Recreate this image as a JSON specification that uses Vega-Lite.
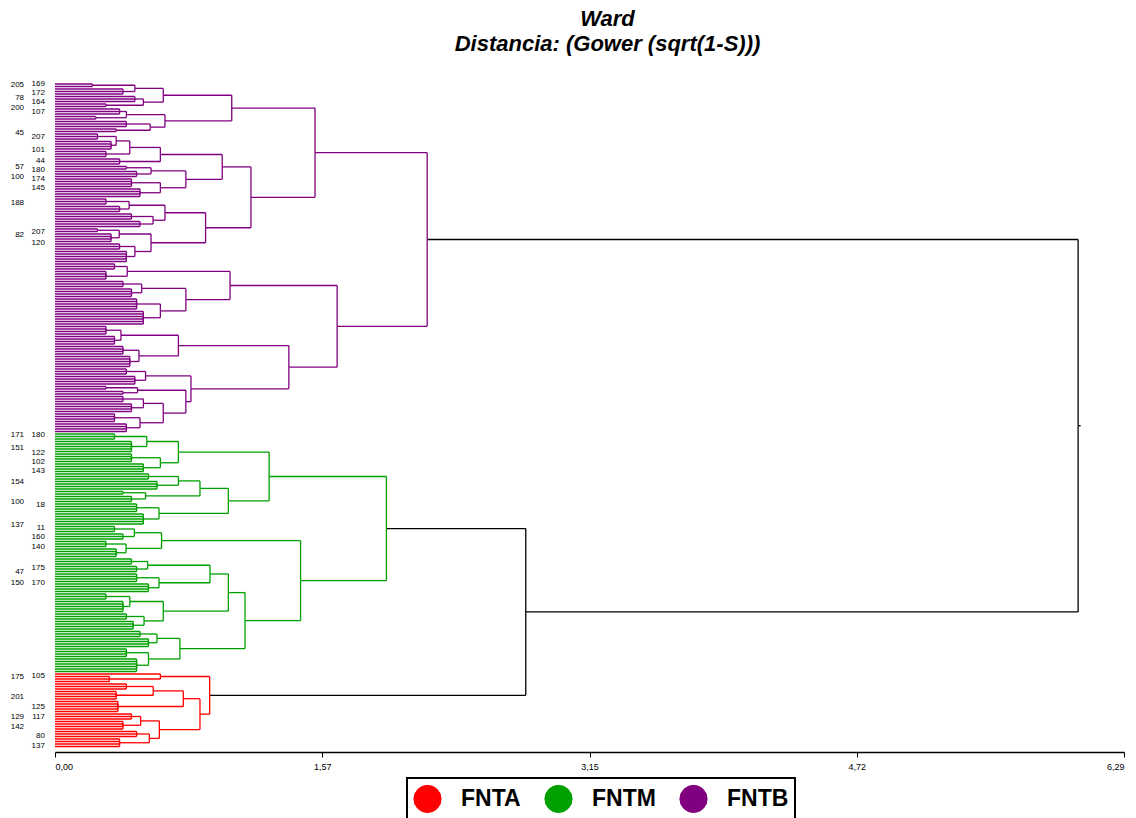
{
"$schema": "https://vega.github.io/schema/vega-lite/v6.json",
"width": 1069, "height": 672,
"autosize": "none",
"padding": {"left": 55, "top": 80, "right": 12, "bottom": 66},
"background": "white",
"config": {"view": {"stroke": null}},
"title": {"text": ["Ward", "Distancia: (Gower (sqrt(1-S)))"], "font": "Liberation Sans", "fontSize": 22, "fontStyle": "italic", "fontWeight": "bold", "color": "black", "anchor": "middle", "lineHeight": 25, "offset": 24, "dx": 18},
"data": {"values": [
{"y":239.5,"h":2.19,"py":425.7,"ph":6.02,"c":"K"},
{"y":611.9,"h":2.77,"py":425.7,"ph":6.02,"c":"K"},
{"y":425.7,"h":6.02,"py":425.7,"ph":6.035,"c":"K"},
{"y":528.55,"h":1.95,"py":611.9,"ph":2.77,"c":"K"},
{"y":695.3,"h":0.91,"py":611.9,"ph":2.77,"c":"K"},
{"y":152.7,"h":1.53,"py":239.5,"ph":2.19,"c":"FNTB"},
{"y":326.35,"h":1.66,"py":239.5,"ph":2.19,"c":"FNTB"},
{"y":108.06,"h":1.04,"py":152.7,"ph":1.53,"c":"FNTB"},
{"y":197.3,"h":1.153,"py":152.7,"ph":1.53,"c":"FNTB"},
{"y":95.25,"h":0.637,"py":108.06,"ph":1.04,"c":"FNTB"},
{"y":120.875,"h":0.647,"py":108.06,"ph":1.04,"c":"FNTB"},
{"y":88.375,"h":0.47,"py":95.25,"ph":0.637,"c":"FNTB"},
{"y":102.125,"h":0.52,"py":95.25,"ph":0.637,"c":"FNTB"},
{"y":85.25,"h":0.22,"py":88.375,"ph":0.47,"c":"FNTB"},
{"y":91.5,"h":0.40,"py":88.375,"ph":0.47,"c":"FNTB"},
{"y":99,"h":0.47,"py":102.125,"ph":0.52,"c":"FNTB"},
{"y":105.25,"h":0.30,"py":102.125,"ph":0.52,"c":"FNTB"},
{"y":114.625,"h":0.42,"py":120.875,"ph":0.647,"c":"FNTB"},
{"y":127.125,"h":0.56,"py":120.875,"ph":0.647,"c":"FNTB"},
{"y":111.5,"h":0.38,"py":114.625,"ph":0.42,"c":"FNTB"},
{"y":117.75,"h":0.24,"py":114.625,"ph":0.42,"c":"FNTB"},
{"y":124,"h":0.42,"py":127.125,"ph":0.56,"c":"FNTB"},
{"y":130.25,"h":0.36,"py":127.125,"ph":0.56,"c":"FNTB"},
{"y":166.9,"h":0.984,"py":197.3,"ph":1.153,"c":"FNTB"},
{"y":227.75,"h":0.886,"py":197.3,"ph":1.153,"c":"FNTB"},
{"y":154.5,"h":0.62,"py":166.9,"ph":0.984,"c":"FNTB"},
{"y":179.3,"h":0.77,"py":166.9,"ph":0.984,"c":"FNTB"},
{"y":147.45,"h":0.44,"py":154.5,"ph":0.62,"c":"FNTB"},
{"y":161.5,"h":0.38,"py":154.5,"ph":0.62,"c":"FNTB"},
{"y":140.9,"h":0.36,"py":147.45,"ph":0.44,"c":"FNTB"},
{"y":154,"h":0.30,"py":147.45,"ph":0.44,"c":"FNTB"},
{"y":136.5,"h":0.25,"py":140.9,"ph":0.36,"c":"FNTB"},
{"y":145.25,"h":0.33,"py":140.9,"ph":0.36,"c":"FNTB"},
{"y":170.875,"h":0.565,"py":179.3,"ph":0.77,"c":"FNTB"},
{"y":187.75,"h":0.62,"py":179.3,"ph":0.77,"c":"FNTB"},
{"y":167.75,"h":0.42,"py":170.875,"ph":0.565,"c":"FNTB"},
{"y":174,"h":0.48,"py":170.875,"ph":0.565,"c":"FNTB"},
{"y":182.75,"h":0.45,"py":187.75,"ph":0.62,"c":"FNTB"},
{"y":192.75,"h":0.50,"py":187.75,"ph":0.62,"c":"FNTB"},
{"y":212.75,"h":0.647,"py":227.75,"ph":0.886,"c":"FNTB"},
{"y":242.75,"h":0.565,"py":227.75,"ph":0.886,"c":"FNTB"},
{"y":205.25,"h":0.436,"py":212.75,"ph":0.647,"c":"FNTB"},
{"y":220.25,"h":0.577,"py":212.75,"ph":0.647,"c":"FNTB"},
{"y":201.5,"h":0.30,"py":205.25,"ph":0.436,"c":"FNTB"},
{"y":209,"h":0.38,"py":205.25,"ph":0.436,"c":"FNTB"},
{"y":216.5,"h":0.45,"py":220.25,"ph":0.577,"c":"FNTB"},
{"y":224,"h":0.50,"py":220.25,"ph":0.577,"c":"FNTB"},
{"y":234,"h":0.378,"py":242.75,"ph":0.565,"c":"FNTB"},
{"y":251.5,"h":0.47,"py":242.75,"ph":0.565,"c":"FNTB"},
{"y":230.25,"h":0.25,"py":234,"ph":0.378,"c":"FNTB"},
{"y":237.75,"h":0.33,"py":234,"ph":0.378,"c":"FNTB"},
{"y":246.5,"h":0.38,"py":251.5,"ph":0.47,"c":"FNTB"},
{"y":256.5,"h":0.42,"py":251.5,"ph":0.47,"c":"FNTB"},
{"y":285.5,"h":1.03,"py":326.35,"ph":1.66,"c":"FNTB"},
{"y":367.2,"h":1.376,"py":326.35,"ph":1.66,"c":"FNTB"},
{"y":271.4,"h":0.425,"py":285.5,"ph":1.03,"c":"FNTB"},
{"y":299.6,"h":0.77,"py":285.5,"ph":1.03,"c":"FNTB"},
{"y":266.5,"h":0.35,"py":271.4,"ph":0.425,"c":"FNTB"},
{"y":276.25,"h":0.30,"py":271.4,"ph":0.425,"c":"FNTB"},
{"y":288.4,"h":0.51,"py":299.6,"ph":0.77,"c":"FNTB"},
{"y":310.9,"h":0.62,"py":299.6,"ph":0.77,"c":"FNTB"},
{"y":284,"h":0.40,"py":288.4,"ph":0.51,"c":"FNTB"},
{"y":292.75,"h":0.45,"py":288.4,"ph":0.51,"c":"FNTB"},
{"y":304,"h":0.48,"py":310.9,"ph":0.62,"c":"FNTB"},
{"y":317.75,"h":0.52,"py":310.9,"ph":0.62,"c":"FNTB"},
{"y":345.6,"h":0.726,"py":367.2,"ph":1.376,"c":"FNTB"},
{"y":388.8,"h":0.80,"py":367.2,"ph":1.376,"c":"FNTB"},
{"y":335.25,"h":0.388,"py":345.6,"ph":0.726,"c":"FNTB"},
{"y":355.9,"h":0.494,"py":345.6,"ph":0.726,"c":"FNTB"},
{"y":330.25,"h":0.30,"py":335.25,"ph":0.388,"c":"FNTB"},
{"y":340.25,"h":0.35,"py":335.25,"ph":0.388,"c":"FNTB"},
{"y":350.25,"h":0.40,"py":355.9,"ph":0.494,"c":"FNTB"},
{"y":361.5,"h":0.44,"py":355.9,"ph":0.494,"c":"FNTB"},
{"y":375.9,"h":0.533,"py":388.8,"ph":0.80,"c":"FNTB"},
{"y":401.7,"h":0.77,"py":388.8,"ph":0.80,"c":"FNTB"},
{"y":371.5,"h":0.42,"py":375.9,"ph":0.533,"c":"FNTB"},
{"y":380.25,"h":0.47,"py":375.9,"ph":0.533,"c":"FNTB"},
{"y":390.25,"h":0.486,"py":401.7,"ph":0.77,"c":"FNTB"},
{"y":413.1,"h":0.637,"py":401.7,"ph":0.77,"c":"FNTB"},
{"y":387.75,"h":0.30,"py":390.25,"ph":0.486,"c":"FNTB"},
{"y":392.75,"h":0.40,"py":390.25,"ph":0.486,"c":"FNTB"},
{"y":403.4,"h":0.52,"py":413.1,"ph":0.637,"c":"FNTB"},
{"y":422.75,"h":0.50,"py":413.1,"ph":0.637,"c":"FNTB"},
{"y":399,"h":0.40,"py":403.4,"ph":0.52,"c":"FNTB"},
{"y":407.75,"h":0.45,"py":403.4,"ph":0.52,"c":"FNTB"},
{"y":417.75,"h":0.35,"py":422.75,"ph":0.50,"c":"FNTB"},
{"y":427.75,"h":0.42,"py":422.75,"ph":0.50,"c":"FNTB"},
{"y":476.5,"h":1.26,"py":528.55,"ph":1.95,"c":"FNTM"},
{"y":580.6,"h":1.445,"py":528.55,"ph":1.95,"c":"FNTM"},
{"y":452.1,"h":0.726,"py":476.5,"ph":1.26,"c":"FNTM"},
{"y":500.9,"h":1.02,"py":476.5,"ph":1.26,"c":"FNTM"},
{"y":441.5,"h":0.54,"py":452.1,"ph":0.726,"c":"FNTM"},
{"y":462.75,"h":0.62,"py":452.1,"ph":0.726,"c":"FNTM"},
{"y":436.5,"h":0.35,"py":441.5,"ph":0.54,"c":"FNTM"},
{"y":446.5,"h":0.45,"py":441.5,"ph":0.54,"c":"FNTM"},
{"y":457.75,"h":0.45,"py":462.75,"ph":0.62,"c":"FNTM"},
{"y":467.75,"h":0.52,"py":462.75,"ph":0.62,"c":"FNTM"},
{"y":488.4,"h":0.853,"py":500.9,"ph":1.02,"c":"FNTM"},
{"y":513.4,"h":0.612,"py":500.9,"ph":1.02,"c":"FNTM"},
{"y":480.9,"h":0.726,"py":488.4,"ph":0.853,"c":"FNTM"},
{"y":495.9,"h":0.533,"py":488.4,"ph":0.853,"c":"FNTM"},
{"y":476.5,"h":0.55,"py":480.9,"ph":0.726,"c":"FNTM"},
{"y":485.25,"h":0.60,"py":480.9,"ph":0.726,"c":"FNTM"},
{"y":492.75,"h":0.40,"py":495.9,"ph":0.533,"c":"FNTM"},
{"y":499,"h":0.45,"py":495.9,"ph":0.533,"c":"FNTM"},
{"y":507.75,"h":0.48,"py":513.4,"ph":0.612,"c":"FNTM"},
{"y":519,"h":0.52,"py":513.4,"ph":0.612,"c":"FNTM"},
{"y":540.6,"h":0.627,"py":580.6,"ph":1.445,"c":"FNTM"},
{"y":620.65,"h":1.118,"py":580.6,"ph":1.445,"c":"FNTM"},
{"y":532.75,"h":0.467,"py":540.6,"ph":0.627,"c":"FNTM"},
{"y":548.4,"h":0.418,"py":540.6,"ph":0.627,"c":"FNTM"},
{"y":529,"h":0.35,"py":532.75,"ph":0.467,"c":"FNTM"},
{"y":536.5,"h":0.40,"py":532.75,"ph":0.467,"c":"FNTM"},
{"y":544,"h":0.30,"py":548.4,"ph":0.418,"c":"FNTM"},
{"y":552.75,"h":0.36,"py":548.4,"ph":0.418,"c":"FNTM"},
{"y":592.6,"h":1.02,"py":620.65,"ph":1.118,"c":"FNTM"},
{"y":648.7,"h":0.735,"py":620.65,"ph":1.118,"c":"FNTM"},
{"y":574,"h":0.912,"py":592.6,"ph":1.02,"c":"FNTM"},
{"y":611.2,"h":0.637,"py":592.6,"ph":1.02,"c":"FNTM"},
{"y":565.25,"h":0.545,"py":574,"ph":0.912,"c":"FNTM"},
{"y":582.75,"h":0.612,"py":574,"ph":0.912,"c":"FNTM"},
{"y":561.5,"h":0.45,"py":565.25,"ph":0.545,"c":"FNTM"},
{"y":569,"h":0.48,"py":565.25,"ph":0.545,"c":"FNTM"},
{"y":577.75,"h":0.48,"py":582.75,"ph":0.612,"c":"FNTM"},
{"y":587.75,"h":0.55,"py":582.75,"ph":0.612,"c":"FNTM"},
{"y":601.5,"h":0.44,"py":611.2,"ph":0.637,"c":"FNTM"},
{"y":620.9,"h":0.524,"py":611.2,"ph":0.637,"c":"FNTM"},
{"y":596.5,"h":0.30,"py":601.5,"ph":0.44,"c":"FNTM"},
{"y":606.5,"h":0.40,"py":601.5,"ph":0.44,"c":"FNTM"},
{"y":616.5,"h":0.42,"py":620.9,"ph":0.524,"c":"FNTM"},
{"y":625.25,"h":0.46,"py":620.9,"ph":0.524,"c":"FNTM"},
{"y":638.4,"h":0.60,"py":648.7,"ph":0.735,"c":"FNTM"},
{"y":659,"h":0.55,"py":648.7,"ph":0.735,"c":"FNTM"},
{"y":634,"h":0.50,"py":638.4,"ph":0.60,"c":"FNTM"},
{"y":642.75,"h":0.55,"py":638.4,"ph":0.60,"c":"FNTM"},
{"y":652.75,"h":0.42,"py":659,"ph":0.55,"c":"FNTM"},
{"y":665.25,"h":0.48,"py":659,"ph":0.55,"c":"FNTM"},
{"y":676.5,"h":0.62,"py":695.3,"ph":0.91,"c":"FNTA"},
{"y":714.15,"h":0.853,"py":695.3,"ph":0.91,"c":"FNTA"},
{"y":679,"h":0.32,"py":676.5,"ph":0.62,"c":"FNTA"},
{"y":698.7,"h":0.755,"py":714.15,"ph":0.853,"c":"FNTA"},
{"y":729.6,"h":0.614,"py":714.15,"ph":0.853,"c":"FNTA"},
{"y":690.9,"h":0.578,"py":698.7,"ph":0.755,"c":"FNTA"},
{"y":706.5,"h":0.37,"py":698.7,"ph":0.755,"c":"FNTA"},
{"y":686.5,"h":0.42,"py":690.9,"ph":0.578,"c":"FNTA"},
{"y":695.25,"h":0.36,"py":690.9,"ph":0.578,"c":"FNTA"},
{"y":720.9,"h":0.504,"py":729.6,"ph":0.614,"c":"FNTA"},
{"y":738.4,"h":0.555,"py":729.6,"ph":0.614,"c":"FNTA"},
{"y":716.5,"h":0.45,"py":720.9,"ph":0.504,"c":"FNTA"},
{"y":725.25,"h":0.40,"py":720.9,"ph":0.504,"c":"FNTA"},
{"y":734,"h":0.48,"py":738.4,"ph":0.555,"c":"FNTA"},
{"y":742.75,"h":0.38,"py":738.4,"ph":0.555,"c":"FNTA"},
{"y":84,"h":0,"py":85.25,"ph":0.22,"c":"FNTB"},{"y":86.5,"h":0,"py":85.25,"ph":0.22,"c":"FNTB"},
{"y":89,"h":0,"py":91.5,"ph":0.40,"c":"FNTB"},{"y":91.5,"h":0,"py":91.5,"ph":0.40,"c":"FNTB"},{"y":94,"h":0,"py":91.5,"ph":0.40,"c":"FNTB"},
{"y":96.5,"h":0,"py":99,"ph":0.47,"c":"FNTB"},{"y":99,"h":0,"py":99,"ph":0.47,"c":"FNTB"},{"y":101.5,"h":0,"py":99,"ph":0.47,"c":"FNTB"},
{"y":104,"h":0,"py":105.25,"ph":0.30,"c":"FNTB"},{"y":106.5,"h":0,"py":105.25,"ph":0.30,"c":"FNTB"},
{"y":109,"h":0,"py":111.5,"ph":0.38,"c":"FNTB"},{"y":111.5,"h":0,"py":111.5,"ph":0.38,"c":"FNTB"},{"y":114,"h":0,"py":111.5,"ph":0.38,"c":"FNTB"},
{"y":116.5,"h":0,"py":117.75,"ph":0.24,"c":"FNTB"},{"y":119,"h":0,"py":117.75,"ph":0.24,"c":"FNTB"},
{"y":121.5,"h":0,"py":124,"ph":0.42,"c":"FNTB"},{"y":124,"h":0,"py":124,"ph":0.42,"c":"FNTB"},{"y":126.5,"h":0,"py":124,"ph":0.42,"c":"FNTB"},
{"y":129,"h":0,"py":130.25,"ph":0.36,"c":"FNTB"},{"y":131.5,"h":0,"py":130.25,"ph":0.36,"c":"FNTB"},
{"y":134,"h":0,"py":136.5,"ph":0.25,"c":"FNTB"},{"y":136.5,"h":0,"py":136.5,"ph":0.25,"c":"FNTB"},{"y":139,"h":0,"py":136.5,"ph":0.25,"c":"FNTB"},
{"y":141.5,"h":0,"py":145.25,"ph":0.33,"c":"FNTB"},{"y":144,"h":0,"py":145.25,"ph":0.33,"c":"FNTB"},{"y":146.5,"h":0,"py":145.25,"ph":0.33,"c":"FNTB"},{"y":149,"h":0,"py":145.25,"ph":0.33,"c":"FNTB"},
{"y":151.5,"h":0,"py":154,"ph":0.30,"c":"FNTB"},{"y":154,"h":0,"py":154,"ph":0.30,"c":"FNTB"},{"y":156.5,"h":0,"py":154,"ph":0.30,"c":"FNTB"},
{"y":159,"h":0,"py":161.5,"ph":0.38,"c":"FNTB"},{"y":161.5,"h":0,"py":161.5,"ph":0.38,"c":"FNTB"},{"y":164,"h":0,"py":161.5,"ph":0.38,"c":"FNTB"},
{"y":166.5,"h":0,"py":167.75,"ph":0.42,"c":"FNTB"},{"y":169,"h":0,"py":167.75,"ph":0.42,"c":"FNTB"},
{"y":171.5,"h":0,"py":174,"ph":0.48,"c":"FNTB"},{"y":174,"h":0,"py":174,"ph":0.48,"c":"FNTB"},{"y":176.5,"h":0,"py":174,"ph":0.48,"c":"FNTB"},
{"y":179,"h":0,"py":182.75,"ph":0.45,"c":"FNTB"},{"y":181.5,"h":0,"py":182.75,"ph":0.45,"c":"FNTB"},{"y":184,"h":0,"py":182.75,"ph":0.45,"c":"FNTB"},{"y":186.5,"h":0,"py":182.75,"ph":0.45,"c":"FNTB"},
{"y":189,"h":0,"py":192.75,"ph":0.50,"c":"FNTB"},{"y":191.5,"h":0,"py":192.75,"ph":0.50,"c":"FNTB"},{"y":194,"h":0,"py":192.75,"ph":0.50,"c":"FNTB"},{"y":196.5,"h":0,"py":192.75,"ph":0.50,"c":"FNTB"},
{"y":199,"h":0,"py":201.5,"ph":0.30,"c":"FNTB"},{"y":201.5,"h":0,"py":201.5,"ph":0.30,"c":"FNTB"},{"y":204,"h":0,"py":201.5,"ph":0.30,"c":"FNTB"},
{"y":206.5,"h":0,"py":209,"ph":0.38,"c":"FNTB"},{"y":209,"h":0,"py":209,"ph":0.38,"c":"FNTB"},{"y":211.5,"h":0,"py":209,"ph":0.38,"c":"FNTB"},
{"y":214,"h":0,"py":216.5,"ph":0.45,"c":"FNTB"},{"y":216.5,"h":0,"py":216.5,"ph":0.45,"c":"FNTB"},{"y":219,"h":0,"py":216.5,"ph":0.45,"c":"FNTB"},
{"y":221.5,"h":0,"py":224,"ph":0.50,"c":"FNTB"},{"y":224,"h":0,"py":224,"ph":0.50,"c":"FNTB"},{"y":226.5,"h":0,"py":224,"ph":0.50,"c":"FNTB"},
{"y":229,"h":0,"py":230.25,"ph":0.25,"c":"FNTB"},{"y":231.5,"h":0,"py":230.25,"ph":0.25,"c":"FNTB"},
{"y":234,"h":0,"py":237.75,"ph":0.33,"c":"FNTB"},{"y":236.5,"h":0,"py":237.75,"ph":0.33,"c":"FNTB"},{"y":239,"h":0,"py":237.75,"ph":0.33,"c":"FNTB"},{"y":241.5,"h":0,"py":237.75,"ph":0.33,"c":"FNTB"},
{"y":244,"h":0,"py":246.5,"ph":0.38,"c":"FNTB"},{"y":246.5,"h":0,"py":246.5,"ph":0.38,"c":"FNTB"},{"y":249,"h":0,"py":246.5,"ph":0.38,"c":"FNTB"},
{"y":251.5,"h":0,"py":256.5,"ph":0.42,"c":"FNTB"},{"y":254,"h":0,"py":256.5,"ph":0.42,"c":"FNTB"},{"y":256.5,"h":0,"py":256.5,"ph":0.42,"c":"FNTB"},{"y":259,"h":0,"py":256.5,"ph":0.42,"c":"FNTB"},{"y":261.5,"h":0,"py":256.5,"ph":0.42,"c":"FNTB"},
{"y":264,"h":0,"py":266.5,"ph":0.35,"c":"FNTB"},{"y":266.5,"h":0,"py":266.5,"ph":0.35,"c":"FNTB"},{"y":269,"h":0,"py":266.5,"ph":0.35,"c":"FNTB"},
{"y":271.5,"h":0,"py":276.25,"ph":0.30,"c":"FNTB"},{"y":274,"h":0,"py":276.25,"ph":0.30,"c":"FNTB"},{"y":276.5,"h":0,"py":276.25,"ph":0.30,"c":"FNTB"},{"y":279,"h":0,"py":276.25,"ph":0.30,"c":"FNTB"},
{"y":281.5,"h":0,"py":284,"ph":0.40,"c":"FNTB"},{"y":284,"h":0,"py":284,"ph":0.40,"c":"FNTB"},{"y":286.5,"h":0,"py":284,"ph":0.40,"c":"FNTB"},
{"y":289,"h":0,"py":292.75,"ph":0.45,"c":"FNTB"},{"y":291.5,"h":0,"py":292.75,"ph":0.45,"c":"FNTB"},{"y":294,"h":0,"py":292.75,"ph":0.45,"c":"FNTB"},{"y":296.5,"h":0,"py":292.75,"ph":0.45,"c":"FNTB"},
{"y":299,"h":0,"py":304,"ph":0.48,"c":"FNTB"},{"y":301.5,"h":0,"py":304,"ph":0.48,"c":"FNTB"},{"y":304,"h":0,"py":304,"ph":0.48,"c":"FNTB"},{"y":306.5,"h":0,"py":304,"ph":0.48,"c":"FNTB"},{"y":309,"h":0,"py":304,"ph":0.48,"c":"FNTB"},
{"y":311.5,"h":0,"py":317.75,"ph":0.52,"c":"FNTB"},{"y":314,"h":0,"py":317.75,"ph":0.52,"c":"FNTB"},{"y":316.5,"h":0,"py":317.75,"ph":0.52,"c":"FNTB"},{"y":319,"h":0,"py":317.75,"ph":0.52,"c":"FNTB"},{"y":321.5,"h":0,"py":317.75,"ph":0.52,"c":"FNTB"},{"y":324,"h":0,"py":317.75,"ph":0.52,"c":"FNTB"},
{"y":326.5,"h":0,"py":330.25,"ph":0.30,"c":"FNTB"},{"y":329,"h":0,"py":330.25,"ph":0.30,"c":"FNTB"},{"y":331.5,"h":0,"py":330.25,"ph":0.30,"c":"FNTB"},{"y":334,"h":0,"py":330.25,"ph":0.30,"c":"FNTB"},
{"y":336.5,"h":0,"py":340.25,"ph":0.35,"c":"FNTB"},{"y":339,"h":0,"py":340.25,"ph":0.35,"c":"FNTB"},{"y":341.5,"h":0,"py":340.25,"ph":0.35,"c":"FNTB"},{"y":344,"h":0,"py":340.25,"ph":0.35,"c":"FNTB"},
{"y":346.5,"h":0,"py":350.25,"ph":0.40,"c":"FNTB"},{"y":349,"h":0,"py":350.25,"ph":0.40,"c":"FNTB"},{"y":351.5,"h":0,"py":350.25,"ph":0.40,"c":"FNTB"},{"y":354,"h":0,"py":350.25,"ph":0.40,"c":"FNTB"},
{"y":356.5,"h":0,"py":361.5,"ph":0.44,"c":"FNTB"},{"y":359,"h":0,"py":361.5,"ph":0.44,"c":"FNTB"},{"y":361.5,"h":0,"py":361.5,"ph":0.44,"c":"FNTB"},{"y":364,"h":0,"py":361.5,"ph":0.44,"c":"FNTB"},{"y":366.5,"h":0,"py":361.5,"ph":0.44,"c":"FNTB"},
{"y":369,"h":0,"py":371.5,"ph":0.42,"c":"FNTB"},{"y":371.5,"h":0,"py":371.5,"ph":0.42,"c":"FNTB"},{"y":374,"h":0,"py":371.5,"ph":0.42,"c":"FNTB"},
{"y":376.5,"h":0,"py":380.25,"ph":0.47,"c":"FNTB"},{"y":379,"h":0,"py":380.25,"ph":0.47,"c":"FNTB"},{"y":381.5,"h":0,"py":380.25,"ph":0.47,"c":"FNTB"},{"y":384,"h":0,"py":380.25,"ph":0.47,"c":"FNTB"},
{"y":386.5,"h":0,"py":387.75,"ph":0.30,"c":"FNTB"},{"y":389,"h":0,"py":387.75,"ph":0.30,"c":"FNTB"},
{"y":391.5,"h":0,"py":392.75,"ph":0.40,"c":"FNTB"},{"y":394,"h":0,"py":392.75,"ph":0.40,"c":"FNTB"},
{"y":396.5,"h":0,"py":399,"ph":0.40,"c":"FNTB"},{"y":399,"h":0,"py":399,"ph":0.40,"c":"FNTB"},{"y":401.5,"h":0,"py":399,"ph":0.40,"c":"FNTB"},
{"y":404,"h":0,"py":407.75,"ph":0.45,"c":"FNTB"},{"y":406.5,"h":0,"py":407.75,"ph":0.45,"c":"FNTB"},{"y":409,"h":0,"py":407.75,"ph":0.45,"c":"FNTB"},{"y":411.5,"h":0,"py":407.75,"ph":0.45,"c":"FNTB"},
{"y":414,"h":0,"py":417.75,"ph":0.35,"c":"FNTB"},{"y":416.5,"h":0,"py":417.75,"ph":0.35,"c":"FNTB"},{"y":419,"h":0,"py":417.75,"ph":0.35,"c":"FNTB"},{"y":421.5,"h":0,"py":417.75,"ph":0.35,"c":"FNTB"},
{"y":424,"h":0,"py":427.75,"ph":0.42,"c":"FNTB"},{"y":426.5,"h":0,"py":427.75,"ph":0.42,"c":"FNTB"},{"y":429,"h":0,"py":427.75,"ph":0.42,"c":"FNTB"},{"y":431.5,"h":0,"py":427.75,"ph":0.42,"c":"FNTB"},
{"y":434,"h":0,"py":436.5,"ph":0.35,"c":"FNTM"},{"y":436.5,"h":0,"py":436.5,"ph":0.35,"c":"FNTM"},{"y":439,"h":0,"py":436.5,"ph":0.35,"c":"FNTM"},
{"y":441.5,"h":0,"py":446.5,"ph":0.45,"c":"FNTM"},{"y":444,"h":0,"py":446.5,"ph":0.45,"c":"FNTM"},{"y":446.5,"h":0,"py":446.5,"ph":0.45,"c":"FNTM"},{"y":449,"h":0,"py":446.5,"ph":0.45,"c":"FNTM"},{"y":451.5,"h":0,"py":446.5,"ph":0.45,"c":"FNTM"},
{"y":454,"h":0,"py":457.75,"ph":0.45,"c":"FNTM"},{"y":456.5,"h":0,"py":457.75,"ph":0.45,"c":"FNTM"},{"y":459,"h":0,"py":457.75,"ph":0.45,"c":"FNTM"},{"y":461.5,"h":0,"py":457.75,"ph":0.45,"c":"FNTM"},
{"y":464,"h":0,"py":467.75,"ph":0.52,"c":"FNTM"},{"y":466.5,"h":0,"py":467.75,"ph":0.52,"c":"FNTM"},{"y":469,"h":0,"py":467.75,"ph":0.52,"c":"FNTM"},{"y":471.5,"h":0,"py":467.75,"ph":0.52,"c":"FNTM"},
{"y":474,"h":0,"py":476.5,"ph":0.55,"c":"FNTM"},{"y":476.5,"h":0,"py":476.5,"ph":0.55,"c":"FNTM"},{"y":479,"h":0,"py":476.5,"ph":0.55,"c":"FNTM"},
{"y":481.5,"h":0,"py":485.25,"ph":0.60,"c":"FNTM"},{"y":484,"h":0,"py":485.25,"ph":0.60,"c":"FNTM"},{"y":486.5,"h":0,"py":485.25,"ph":0.60,"c":"FNTM"},{"y":489,"h":0,"py":485.25,"ph":0.60,"c":"FNTM"},
{"y":491.5,"h":0,"py":492.75,"ph":0.40,"c":"FNTM"},{"y":494,"h":0,"py":492.75,"ph":0.40,"c":"FNTM"},
{"y":496.5,"h":0,"py":499,"ph":0.45,"c":"FNTM"},{"y":499,"h":0,"py":499,"ph":0.45,"c":"FNTM"},{"y":501.5,"h":0,"py":499,"ph":0.45,"c":"FNTM"},
{"y":504,"h":0,"py":507.75,"ph":0.48,"c":"FNTM"},{"y":506.5,"h":0,"py":507.75,"ph":0.48,"c":"FNTM"},{"y":509,"h":0,"py":507.75,"ph":0.48,"c":"FNTM"},{"y":511.5,"h":0,"py":507.75,"ph":0.48,"c":"FNTM"},
{"y":514,"h":0,"py":519,"ph":0.52,"c":"FNTM"},{"y":516.5,"h":0,"py":519,"ph":0.52,"c":"FNTM"},{"y":519,"h":0,"py":519,"ph":0.52,"c":"FNTM"},{"y":521.5,"h":0,"py":519,"ph":0.52,"c":"FNTM"},{"y":524,"h":0,"py":519,"ph":0.52,"c":"FNTM"},
{"y":526.5,"h":0,"py":529,"ph":0.35,"c":"FNTM"},{"y":529,"h":0,"py":529,"ph":0.35,"c":"FNTM"},{"y":531.5,"h":0,"py":529,"ph":0.35,"c":"FNTM"},
{"y":534,"h":0,"py":536.5,"ph":0.40,"c":"FNTM"},{"y":536.5,"h":0,"py":536.5,"ph":0.40,"c":"FNTM"},{"y":539,"h":0,"py":536.5,"ph":0.40,"c":"FNTM"},
{"y":541.5,"h":0,"py":544,"ph":0.30,"c":"FNTM"},{"y":544,"h":0,"py":544,"ph":0.30,"c":"FNTM"},{"y":546.5,"h":0,"py":544,"ph":0.30,"c":"FNTM"},
{"y":549,"h":0,"py":552.75,"ph":0.36,"c":"FNTM"},{"y":551.5,"h":0,"py":552.75,"ph":0.36,"c":"FNTM"},{"y":554,"h":0,"py":552.75,"ph":0.36,"c":"FNTM"},{"y":556.5,"h":0,"py":552.75,"ph":0.36,"c":"FNTM"},
{"y":559,"h":0,"py":561.5,"ph":0.45,"c":"FNTM"},{"y":561.5,"h":0,"py":561.5,"ph":0.45,"c":"FNTM"},{"y":564,"h":0,"py":561.5,"ph":0.45,"c":"FNTM"},
{"y":566.5,"h":0,"py":569,"ph":0.48,"c":"FNTM"},{"y":569,"h":0,"py":569,"ph":0.48,"c":"FNTM"},{"y":571.5,"h":0,"py":569,"ph":0.48,"c":"FNTM"},
{"y":574,"h":0,"py":577.75,"ph":0.48,"c":"FNTM"},{"y":576.5,"h":0,"py":577.75,"ph":0.48,"c":"FNTM"},{"y":579,"h":0,"py":577.75,"ph":0.48,"c":"FNTM"},{"y":581.5,"h":0,"py":577.75,"ph":0.48,"c":"FNTM"},
{"y":584,"h":0,"py":587.75,"ph":0.55,"c":"FNTM"},{"y":586.5,"h":0,"py":587.75,"ph":0.55,"c":"FNTM"},{"y":589,"h":0,"py":587.75,"ph":0.55,"c":"FNTM"},{"y":591.5,"h":0,"py":587.75,"ph":0.55,"c":"FNTM"},
{"y":594,"h":0,"py":596.5,"ph":0.30,"c":"FNTM"},{"y":596.5,"h":0,"py":596.5,"ph":0.30,"c":"FNTM"},{"y":599,"h":0,"py":596.5,"ph":0.30,"c":"FNTM"},
{"y":601.5,"h":0,"py":606.5,"ph":0.40,"c":"FNTM"},{"y":604,"h":0,"py":606.5,"ph":0.40,"c":"FNTM"},{"y":606.5,"h":0,"py":606.5,"ph":0.40,"c":"FNTM"},{"y":609,"h":0,"py":606.5,"ph":0.40,"c":"FNTM"},{"y":611.5,"h":0,"py":606.5,"ph":0.40,"c":"FNTM"},
{"y":614,"h":0,"py":616.5,"ph":0.42,"c":"FNTM"},{"y":616.5,"h":0,"py":616.5,"ph":0.42,"c":"FNTM"},{"y":619,"h":0,"py":616.5,"ph":0.42,"c":"FNTM"},
{"y":621.5,"h":0,"py":625.25,"ph":0.46,"c":"FNTM"},{"y":624,"h":0,"py":625.25,"ph":0.46,"c":"FNTM"},{"y":626.5,"h":0,"py":625.25,"ph":0.46,"c":"FNTM"},{"y":629,"h":0,"py":625.25,"ph":0.46,"c":"FNTM"},
{"y":631.5,"h":0,"py":634,"ph":0.50,"c":"FNTM"},{"y":634,"h":0,"py":634,"ph":0.50,"c":"FNTM"},{"y":636.5,"h":0,"py":634,"ph":0.50,"c":"FNTM"},
{"y":639,"h":0,"py":642.75,"ph":0.55,"c":"FNTM"},{"y":641.5,"h":0,"py":642.75,"ph":0.55,"c":"FNTM"},{"y":644,"h":0,"py":642.75,"ph":0.55,"c":"FNTM"},{"y":646.5,"h":0,"py":642.75,"ph":0.55,"c":"FNTM"},
{"y":649,"h":0,"py":652.75,"ph":0.42,"c":"FNTM"},{"y":651.5,"h":0,"py":652.75,"ph":0.42,"c":"FNTM"},{"y":654,"h":0,"py":652.75,"ph":0.42,"c":"FNTM"},{"y":656.5,"h":0,"py":652.75,"ph":0.42,"c":"FNTM"},
{"y":659,"h":0,"py":665.25,"ph":0.48,"c":"FNTM"},{"y":661.5,"h":0,"py":665.25,"ph":0.48,"c":"FNTM"},{"y":664,"h":0,"py":665.25,"ph":0.48,"c":"FNTM"},{"y":666.5,"h":0,"py":665.25,"ph":0.48,"c":"FNTM"},{"y":669,"h":0,"py":665.25,"ph":0.48,"c":"FNTM"},{"y":671.5,"h":0,"py":665.25,"ph":0.48,"c":"FNTM"},
{"y":674,"h":0,"py":676.5,"ph":0.62,"c":"FNTA"},
{"y":676.5,"h":0,"py":679,"ph":0.32,"c":"FNTA"},{"y":679,"h":0,"py":679,"ph":0.32,"c":"FNTA"},{"y":681.5,"h":0,"py":679,"ph":0.32,"c":"FNTA"},
{"y":684,"h":0,"py":686.5,"ph":0.42,"c":"FNTA"},{"y":686.5,"h":0,"py":686.5,"ph":0.42,"c":"FNTA"},{"y":689,"h":0,"py":686.5,"ph":0.42,"c":"FNTA"},
{"y":691.5,"h":0,"py":695.25,"ph":0.36,"c":"FNTA"},{"y":694,"h":0,"py":695.25,"ph":0.36,"c":"FNTA"},{"y":696.5,"h":0,"py":695.25,"ph":0.36,"c":"FNTA"},{"y":699,"h":0,"py":695.25,"ph":0.36,"c":"FNTA"},
{"y":701.5,"h":0,"py":706.5,"ph":0.37,"c":"FNTA"},{"y":704,"h":0,"py":706.5,"ph":0.37,"c":"FNTA"},{"y":706.5,"h":0,"py":706.5,"ph":0.37,"c":"FNTA"},{"y":709,"h":0,"py":706.5,"ph":0.37,"c":"FNTA"},{"y":711.5,"h":0,"py":706.5,"ph":0.37,"c":"FNTA"},
{"y":714,"h":0,"py":716.5,"ph":0.45,"c":"FNTA"},{"y":716.5,"h":0,"py":716.5,"ph":0.45,"c":"FNTA"},{"y":719,"h":0,"py":716.5,"ph":0.45,"c":"FNTA"},
{"y":721.5,"h":0,"py":725.25,"ph":0.40,"c":"FNTA"},{"y":724,"h":0,"py":725.25,"ph":0.40,"c":"FNTA"},{"y":726.5,"h":0,"py":725.25,"ph":0.40,"c":"FNTA"},{"y":729,"h":0,"py":725.25,"ph":0.40,"c":"FNTA"},
{"y":731.5,"h":0,"py":734,"ph":0.48,"c":"FNTA"},{"y":734,"h":0,"py":734,"ph":0.48,"c":"FNTA"},{"y":736.5,"h":0,"py":734,"ph":0.48,"c":"FNTA"},
{"y":739,"h":0,"py":742.75,"ph":0.38,"c":"FNTA"},{"y":741.5,"h":0,"py":742.75,"ph":0.38,"c":"FNTA"},{"y":744,"h":0,"py":742.75,"ph":0.38,"c":"FNTA"},{"y":746.5,"h":0,"py":742.75,"ph":0.38,"c":"FNTA"}
]},
"layer": [
{"mark": {"type": "rule", "strokeWidth": 1.3},
 "encoding": {
  "x": {"field": "h", "type": "quantitative", "scale": {"domain": [0, 6.29], "nice": false, "zero": false},
   "axis": {"title": null, "grid": false, "values": [0, 1.5725, 3.145, 4.7175, 6.29], "labelExpr": "['0,00','1,57','3,15','4,72','6,29'][round(datum.value/1.5725)]", "domainColor": "black", "domainWidth": 1.5, "tickColor": "black", "tickSize": 5, "tickWidth": 1, "labelFont": "Liberation Sans", "labelFontSize": 9, "labelColor": "black", "labelPadding": 5}},
  "x2": {"field": "ph"},
  "y": {"field": "y", "type": "quantitative", "scale": {"domain": [80, 752], "reverse": true, "nice": false, "zero": false}, "axis": null},
  "color": {"field": "c", "type": "nominal",
   "scale": {"domain": ["FNTA", "FNTM", "FNTB", "K"], "range": ["#ff0000", "#00a000", "#800080", "#000000"]},
   "legend": {"values": ["FNTA", "FNTM", "FNTB"], "title": null, "orient": "none", "legendX": 352, "legendY": 698, "direction": "horizontal",
    "symbolType": "circle", "symbolSize": 740,
    "labelFont": "Liberation Sans", "labelFontSize": 23, "labelFontWeight": "bold", "labelColor": "black",
    "labelOffset": 19, "columnPadding": 21, "padding": 6, "strokeColor": "black",
    "encode": {"legend": {"update": {"strokeWidth": {"value": 2}}},
     "symbols": {"update": {"fill": {"scale": "color", "field": "value"}, "fillOpacity": {"value": 1}, "stroke": {"value": "black"}, "strokeWidth": {"value": 1}, "opacity": {"value": 1}}}}}}}},
{"mark": {"type": "rule", "strokeWidth": 1.3},
 "encoding": {
  "x": {"field": "ph", "type": "quantitative"},
  "y": {"field": "y", "type": "quantitative"},
  "y2": {"field": "py"},
  "color": {"field": "c", "type": "nominal"}}},
{"data": {"values": [
  {"y":85,"t":"205"},{"y":98,"t":"78"},{"y":108,"t":"200"},{"y":133,"t":"45"},{"y":167,"t":"57"},{"y":177,"t":"100"},{"y":203,"t":"188"},{"y":235,"t":"82"},
  {"y":435,"t":"171"},{"y":448,"t":"151"},{"y":482,"t":"154"},{"y":502,"t":"100"},{"y":525,"t":"137"},{"y":572,"t":"47"},{"y":583,"t":"150"},
  {"y":677,"t":"175"},{"y":697,"t":"201"},{"y":717,"t":"129"},{"y":727,"t":"142"}]},
 "mark": {"type": "text", "align": "right", "baseline": "middle", "font": "Liberation Sans", "fontSize": 8, "color": "black"},
 "encoding": {"x": {"datum": -0.182}, "y": {"field": "y", "type": "quantitative"}, "text": {"field": "t", "type": "nominal"}}},
{"data": {"values": [
  {"y":84,"t":"169"},{"y":93,"t":"172"},{"y":102,"t":"164"},{"y":112,"t":"107"},{"y":137,"t":"207"},{"y":150,"t":"101"},{"y":161,"t":"44"},{"y":170,"t":"180"},{"y":179,"t":"174"},{"y":188,"t":"145"},{"y":232,"t":"207"},{"y":243,"t":"120"},
  {"y":435,"t":"180"},{"y":453,"t":"122"},{"y":462,"t":"102"},{"y":471,"t":"143"},{"y":505,"t":"18"},{"y":528,"t":"11"},{"y":537,"t":"160"},{"y":547,"t":"140"},{"y":568,"t":"175"},{"y":583,"t":"170"},
  {"y":676,"t":"105"},{"y":707,"t":"125"},{"y":717,"t":"117"},{"y":736,"t":"80"},{"y":746,"t":"137"}]},
 "mark": {"type": "text", "align": "right", "baseline": "middle", "font": "Liberation Sans", "fontSize": 8, "color": "black"},
 "encoding": {"x": {"datum": -0.059}, "y": {"field": "y", "type": "quantitative"}, "text": {"field": "t", "type": "nominal"}}}
]
}
